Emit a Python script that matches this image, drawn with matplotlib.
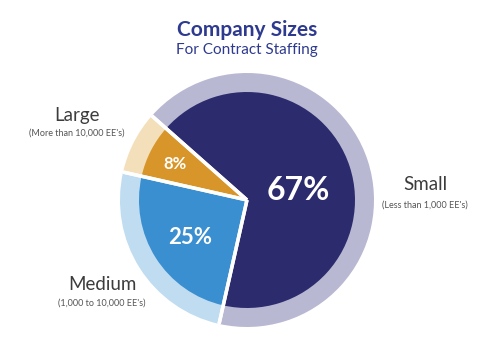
import matplotlib
matplotlib.use('Agg')
import matplotlib.pyplot as plt
import numpy as np

plt.rcParams['font.family'] = ['Lato', 'DejaVu Sans']

# data
categories = ['Large', 'Medium', 'Small']
shares = [8, 25, 67]
descriptions = ["(More than 10,000 EE's)", "(1,000 to 10,000 EE's)", "(Less than 1,000 EE's)"]
dark_colors = ['#d8962a', '#3a8fd0', '#2c2b6d']
light_colors = ['#f3e0ba', '#c0dcf1', '#b9b8d2']

W, H = 500, 362
fig = plt.figure(figsize=(5, 3.62), dpi=100)
ax = fig.add_axes([0, 0, 1, 1])

cx, cy = 247, H - 200
r_out, r_in = 127, 108
start = 138.5
explode = [0.035, 0.025, 0.0]

outer, _ = ax.pie(shares, radius=r_out, center=(cx, cy), colors=light_colors,
                  startangle=start, counterclock=True, explode=explode,
                  wedgeprops=dict(linewidth=0))
inner, _ = ax.pie(shares, radius=r_in, center=(cx, cy), colors=dark_colors,
                  startangle=start, counterclock=True,
                  explode=[e * r_out / r_in for e in explode],
                  wedgeprops=dict(linewidth=0))

# white gaps along the slice edges
for w in outer:
    x0, y0 = w.center
    for th in (w.theta1, w.theta2):
        t = np.deg2rad(th)
        ax.plot([x0, x0 + w.r * np.cos(t)], [y0, y0 + w.r * np.sin(t)],
                color='white', lw=2.5, solid_capstyle='butt', zorder=3)

# percent labels inside slices
pct_pos = [(175, 164), (190, 238), (298, 190)]
pct_size = [12, 16, 23]
for (x, y), s, v in zip(pct_pos, pct_size, shares):
    ax.text(x, H - y, f'{v}%', color='white', fontsize=s, fontweight='bold',
            ha='center', va='center', zorder=4)

# category labels
lab_pos = [(77, 115, 133), (102, 285, 303), (425, 185, 205)]
for (x, y1, y2), name, desc in zip(lab_pos, categories, descriptions):
    ax.text(x, H - y1, name, color='#3c3c3c', fontsize=13.5, ha='center', va='center')
    ax.text(x, H - y2, desc, color='#555555', fontsize=6.5, ha='center', va='center')

# titles
ax.text(247, H - 30, 'Company Sizes', color='#2e3a8f', fontsize=15,
        fontweight='bold', ha='center', va='center')
ax.text(247, H - 50, 'For Contract Staffing', color='#2e3a8f', fontsize=11,
        ha='center', va='center')

ax.set_xlim(0, W)
ax.set_ylim(0, H)
ax.set_aspect('auto')
ax.axis('off')

fig.savefig('out.png', dpi=100, facecolor='white')
